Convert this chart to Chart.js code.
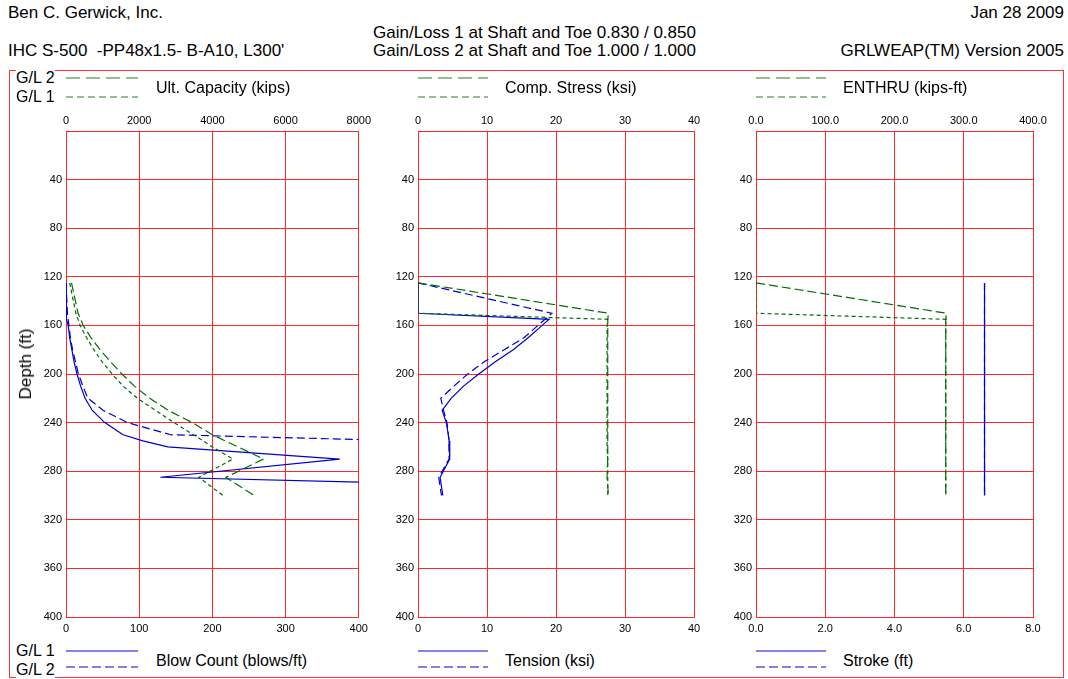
<!DOCTYPE html>
<html>
<head>
<meta charset="utf-8">
<script src="https://cdn.jsdelivr.net/npm/chart.js@4.4.1/dist/chart.umd.min.js"></script>
<style>
  body { margin: 0; background: #fff; font-family: "Liberation Sans", Arial, sans-serif; }
  #page { position: relative; width: 1068px; height: 679px; overflow: hidden; }
  .t { position: absolute; font-size: 16px; color: #000; white-space: nowrap; line-height: 18px; }
  .h { font-size: 17px; }
  .frame { position: absolute; left: 9px; top: 70px; width: 1053px; height: 606px; border: 1px solid #ff3030; }
  canvas { position: absolute; }
  svg { position: absolute; }
</style>
</head>
<body>
<div id="page">
  <div class="t h" style="left:8px;top:4px">Ben C. Gerwick, Inc.</div>
  <div class="t h" style="left:8px;top:42px">IHC S-500&nbsp; -PP48x1.5- B-A10, L300'</div>
  <div class="t h" style="left:373px;top:24px">Gain/Loss 1 at Shaft and Toe 0.830 / 0.850</div>
  <div class="t h" style="left:373px;top:42px">Gain/Loss 2 at Shaft and Toe 1.000 / 1.000</div>
  <div class="t h" style="right:4px;top:4px">Jan 28 2009</div>
  <div class="t h" style="right:4px;top:42px">GRLWEAP(TM) Version 2005</div>
  <div class="frame"></div>

  <canvas id="c1" width="364" height="540" style="left:10px;top:100px"></canvas>
  <canvas id="c2" width="340" height="540" style="left:370px;top:100px"></canvas>
  <canvas id="c3" width="340" height="540" style="left:710px;top:100px"></canvas>

  <div class="t h" style="left:26px;top:364px;transform:translate(-50%,-50%) rotate(-90deg)">Depth (ft)</div>

  <!-- top legends -->
  <div class="t" style="left:16px;top:69px;background:#fff">G/L 2</div>
  <div class="t" style="left:16px;top:88px">G/L 1</div>
  <div class="t" style="left:156px;top:79px">Ult. Capacity (kips)</div>
  <div class="t" style="left:505px;top:79px">Comp. Stress (ksi)</div>
  <div class="t" style="left:843px;top:79px">ENTHRU (kips-ft)</div>
  <svg width="1068" height="120" style="left:0;top:0">
    <g stroke="rgb(110,170,110)" stroke-width="1.5">
      <line x1="66" y1="78" x2="138" y2="78" stroke-dasharray="14,6"/>
      <line x1="66" y1="97" x2="138" y2="97" stroke-dasharray="7,4"/>
      <line x1="418" y1="78" x2="488" y2="78" stroke-dasharray="14,6"/>
      <line x1="418" y1="97" x2="488" y2="97" stroke-dasharray="7,4"/>
      <line x1="756" y1="78" x2="826" y2="78" stroke-dasharray="14,6"/>
      <line x1="756" y1="97" x2="826" y2="97" stroke-dasharray="7,4"/>
    </g>
  </svg>

  <!-- bottom legends -->
  <div class="t" style="left:16px;top:642px">G/L 1</div>
  <div class="t" style="left:16px;top:661px;background:#fff">G/L 2</div>
  <div class="t" style="left:156px;top:652px">Blow Count (blows/ft)</div>
  <div class="t" style="left:505px;top:652px">Tension (ksi)</div>
  <div class="t" style="left:843px;top:652px">Stroke (ft)</div>
  <svg width="1068" height="60" style="left:0;top:630px">
    <g stroke="rgb(90,90,215)" stroke-width="1.5">
      <line x1="66" y1="21" x2="138" y2="21"/>
      <line x1="66" y1="37" x2="138" y2="37" stroke-dasharray="9,4"/>
      <line x1="418" y1="21" x2="488" y2="21"/>
      <line x1="418" y1="37" x2="488" y2="37" stroke-dasharray="9,4"/>
      <line x1="756" y1="21" x2="826" y2="21"/>
      <line x1="756" y1="37" x2="826" y2="37" stroke-dasharray="9,4"/>
    </g>
  </svg>
</div>

<script>
// profondeurs des points d'analyse (ft)
const depths = [125, 150, 155, 160, 170, 180, 190, 200, 210, 220, 230, 240, 250, 255, 260, 270, 285, 300];

// Ult. Capacity (kips)
const ultCapGL1 = [100, 270, 330, 385, 560, 760, 990, 1260, 1560, 1950, 2450, 2950, 3480, 3750, 4000, 4560, 3630, 4290];
const ultCapGL2 = [150, 330, 400, 470, 680, 930, 1220, 1530, 1870, 2290, 2800, 3450, 4000, 4350, 4700, 5400, 4370, 5140];

// Blow Count (blows/ft)
const blowGL1 = [0, 0, 1, 3, 5, 8, 11, 15, 20, 26, 36, 53, 78, 105, 139, 374, 129, 1145];
const blowGL2 = [0, 2, 3, 4, 6, 9, 13, 17, 23, 30, 51, 84, 143, 470, null, null, null, null];

// Comp. Stress (ksi)
const compGL1 = [0, 0, 27.5, 27.4, 27.4, 27.4, 27.4, 27.4, 27.4, 27.4, 27.4, 27.4, 27.4, 27.4, 27.4, 27.5, 27.5, 27.5];
const compGL2 = [0, 27.6, 27.5, 27.5, 27.5, 27.5, 27.5, 27.5, 27.5, 27.5, 27.5, 27.5, 27.5, 27.5, 27.5, 27.5, 27.4, 27.6];

// Tension (ksi)
const tensGL1 = [0, 0, 19.0, 18.0, 16.0, 13.8, 11.2, 8.8, 6.6, 4.8, 3.5, 4.1, 4.4, 4.5, 4.6, 4.6, 3.2, 3.6];
const tensGL2 = [0, 19.4, 18.4, 17.4, 15.4, 12.5, 9.6, 7.2, 5.2, 3.3, 3.7, 4.2, 4.4, 4.5, 4.5, 4.5, 3.0, 3.4];

// ENTHRU (kips-ft)
const enthruGL1 = [0, 0, 275, 274, 274, 274, 274, 274, 274, 274, 274, 274, 274, 274, 274, 274, 274, 274];
const enthruGL2 = [0, 275, 274, 274, 274, 274, 274, 274, 274, 274, 274, 274, 274, 274, 274, 274, 274, 274];

// Stroke (ft)
const strokeGL1 = [6.6, 6.6, 6.6, 6.6, 6.6, 6.6, 6.6, 6.6, 6.6, 6.6, 6.6, 6.6, 6.6, 6.6, 6.6, 6.6, 6.6, 6.6];
const strokeGL2 = [6.6, 6.6, 6.6, 6.6, 6.6, 6.6, 6.6, 6.6, 6.6, 6.6, 6.6, 6.6, 6.6, 6.6, 6.6, 6.6, 6.6, 6.6];

// axes
const depthTicks = [0, 40, 80, 120, 160, 200, 240, 280, 320, 360, 400];
const topAxes = [
  { max: 8000, step: 2000, dec: 0 },
  { max: 40, step: 10, dec: 0 },
  { max: 400, step: 100, dec: 1 }
];
const bottomAxes = [
  { max: 400, step: 100, dec: 0 },
  { max: 40, step: 10, dec: 0 },
  { max: 8, step: 2, dec: 1 }
];

const GREEN = 'rgb(0,110,0)';
const BLUE = 'rgb(0,0,205)';

function pts(vals) {
  return depths.map((d, i) => ({ x: vals[i], y: d })).filter(p => p.x !== null);
}

function ds(vals, color, dash, axis) {
  return {
    data: pts(vals),
    xAxisID: axis,
    borderColor: color,
    borderWidth: 1.2,
    borderDash: dash,
    pointRadius: 0,
    fill: false,
    tension: 0
  };
}

function makePanel(id, yWidth, rightPad, idx, green1, green2, blue1, blue2) {
  const top = topAxes[idx], bot = bottomAxes[idx];
  new Chart(document.getElementById(id).getContext('2d'), {
    type: 'line',
    data: {
      datasets: [
        ds(green2, GREEN, [9, 4], 'xTop'),
        ds(green1, GREEN, [4, 3], 'xTop'),
        ds(blue1, BLUE, [], 'xBot'),
        ds(blue2, BLUE, [8, 4], 'xBot')
      ]
    },
    options: {
      responsive: false,
      animation: false,
      devicePixelRatio: 1,
      layout: { padding: { left: 0, right: rightPad, top: 0, bottom: 0 } },
      plugins: { legend: { display: false }, tooltip: { enabled: false } },
      scales: {
        y: {
          type: 'linear',
          reverse: true,
          min: 0,
          max: 400,
          afterBuildTicks: s => { s.ticks = depthTicks.map(v => ({ value: v })); },
          afterFit: s => { s.width = yWidth; },
          ticks: {
            color: '#000',
            font: { family: 'Liberation Sans', size: 11 },
            padding: 4,
            callback: v => (v === 0 ? '' : String(v))
          },
          grid: { color: 'rgb(255,40,40)', lineWidth: 1, drawTicks: false },
          border: { color: 'rgb(255,40,40)' }
        },
        xTop: {
          type: 'linear',
          position: 'top',
          min: 0,
          max: top.max,
          afterFit: s => { s.height = 31; },
          ticks: {
            stepSize: top.step,
            color: '#000',
            font: { family: 'Liberation Sans', size: 11 },
            padding: 3,
            maxRotation: 0,
            callback: v => v.toFixed(top.dec)
          },
          grid: { color: 'rgb(255,40,40)', lineWidth: 1, drawTicks: false },
          border: { color: 'rgb(255,40,40)' }
        },
        xBot: {
          type: 'linear',
          position: 'bottom',
          min: 0,
          max: bot.max,
          afterFit: s => { s.height = 23; },
          ticks: {
            stepSize: bot.step,
            color: '#000',
            font: { family: 'Liberation Sans', size: 11 },
            padding: 5,
            maxRotation: 0,
            callback: v => v.toFixed(bot.dec)
          },
          grid: { display: false, drawTicks: false },
          border: { color: 'rgb(255,40,40)' }
        }
      }
    }
  });
}

makePanel('c1', 56, 13, 0, ultCapGL1, ultCapGL2, blowGL1, blowGL2);
makePanel('c2', 48, 16, 1, compGL1, compGL2, tensGL1, tensGL2);
makePanel('c3', 46, 17, 2, enthruGL1, enthruGL2, strokeGL1, strokeGL2);
</script>
</body>
</html>
